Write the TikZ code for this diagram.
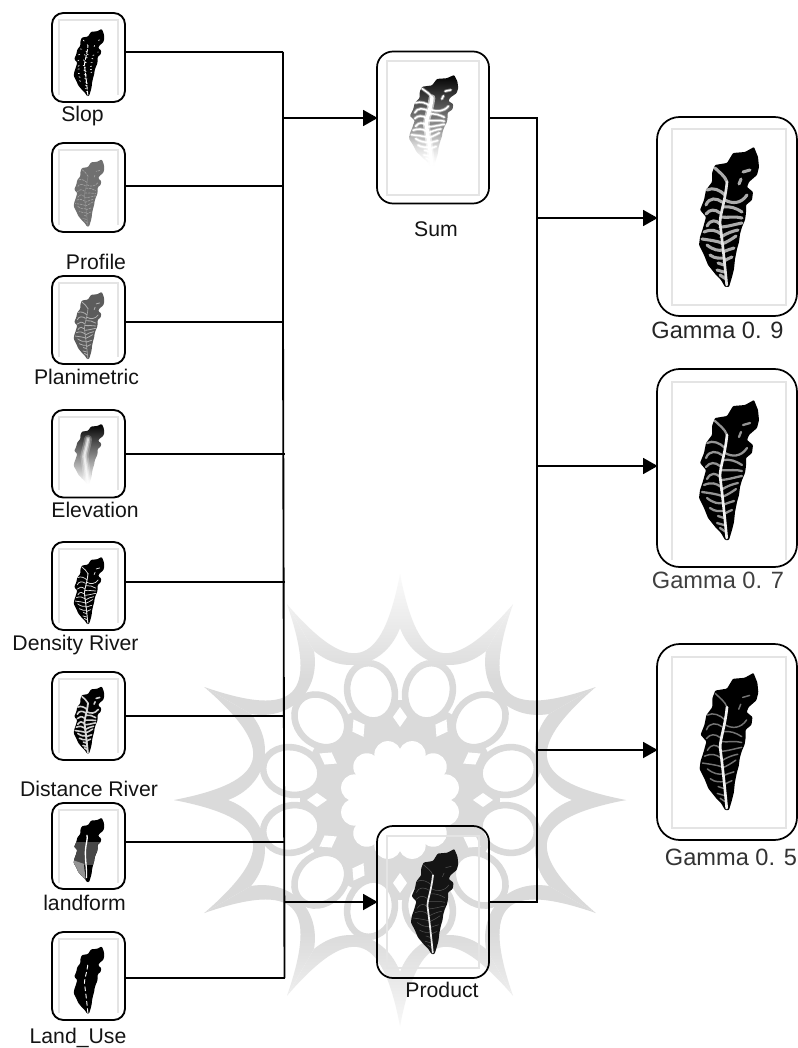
\documentclass[tikz,border=0pt]{standalone}
\usepackage{fontspec}
\setmainfont{Liberation Sans}
\usetikzlibrary{arrows.meta,fadings}
\definecolor{wm}{HTML}{DADADA}
\definecolor{frm}{HTML}{E4E4E4}
\tikzset{
  smallbox/.style={draw=black,line width=1.4pt,rounded corners=8.5pt,inner sep=0pt,outer sep=0pt,minimum width=54.75pt,minimum height=#1},
  midbox/.style={draw=black,line width=1.3pt,rounded corners=12pt,inner sep=0pt,outer sep=0pt,minimum width=84pt,minimum height=114pt},
  bigbox/.style={draw=black,line width=1.3pt,rounded corners=17pt,inner sep=0pt,outer sep=0pt,minimum width=105pt,minimum height=#1},
  wire/.style={draw=black,line width=1.4pt},
  flow/.style={wire,-{Triangle[length=11pt,width=12pt]},shorten >=-0.5pt},
  lab/.style={anchor=base,inner sep=0pt,font=\fontsize{15.9pt}{18pt}\selectfont,text=black!92},
  biglab/.style={anchor=base,inner sep=0pt,font=\fontsize{17.7pt}{20pt}\selectfont,text=black!85},
  frame/.style={draw=frm,line width=0.8pt},
  smallleaf/.style={xscale=0.51,yscale=0.48}
}
\newcommand\leafoutline{(27,-70) -- (31,-60) -- (32,-50) -- (30,-42) -- (22,-35) -- (20,-30) -- (26,-25) -- (25,-17) -- (19,-12) -- (19,-4) -- (18,3) -- (15,10) -- (13,17) -- (12,25) -- (10,32) -- (8,42) -- (7,52) -- (5,60) -- (2,70) -- (-2,70) -- (-6,63) -- (-11,58) -- (-19,48) -- (-23,38) -- (-28,28) -- (-27,20) -- (-24,11) -- (-21,0) -- (-27,-7) -- (-23,-17) -- (-21,-27) -- (-15,-35) -- (-15,-44) -- (-12,-52) -- (0,-54) -- (6,-64) -- (18,-65) -- cycle}
\newcommand\leafveins{(-2,-17) .. controls (5,-13) and (14,-13) .. (20,-22)
 (-4,-10) .. controls (3,-11) and (9,-9) .. (15,-5)
 (-6,0) .. controls (2,1) and (8,-1) .. (15,1)
 (-7,10) .. controls (0,10) and (9,7) .. (15,6)
 (-6,20) .. controls (0,16) and (6,14) .. (11,13)
 (-5,27) .. controls (0,25) and (5,22) .. (9,19)
 (-4,35) .. controls (0,33) and (4,32) .. (7,31)
 (-3,44) .. controls (0,42) and (3,41) .. (5,40)
 (-2,-22) .. controls (-7,-27) and (-14,-30) .. (-20,-27)
 (-5,-15) .. controls (-10,-19) and (-18,-20) .. (-21,-12)
 (-7,-4) .. controls (-12,-8) and (-17,-8) .. (-21,-3)
 (-7,7) .. controls (-11,3) and (-16,2) .. (-20,9)
 (-6,17) .. controls (-11,13) and (-16,12) .. (-23,15)
 (-5,26) .. controls (-10,24) and (-18,23) .. (-25,22)
 (-4,33) .. controls (-8,34) and (-14,33) .. (-20,28)
 (-3,41) .. controls (-7,41) and (-12,42) .. (-17,38)
 (-3,48) -- (-9,46)
 (-3,55) -- (-10,53)
 (-1,62) -- (-7,58)
 (0,-35) .. controls (-2,-41) and (-8,-45) .. (-12,-49)
 (23,-47) -- (16,-45)
 (12,-33) -- (14,-38)}
\newcommand\leafstem{(-0.3,68) .. controls (-2,50) and (-4,30) .. (-7,6) .. controls (-7,-3) and (-2,-15) .. (0,-35)}
% x, y, scale options, body options, vein options, vein width, stem options, stem width
\newcommand\leaf[8]{\begin{scope}[shift={(#1,#2)},#3]
  \path[#4,rounded corners=0.7pt] \leafoutline;
  \draw[#5,line width=#6,line cap=round] \leafveins;
  \draw[#7,line width=#8,line cap=round] \leafstem;
\end{scope}}
\begin{document}
\begin{tikzpicture}[x=0.75pt,y=-0.75pt]
\useasboundingbox (0,0) rectangle (798,1048);
\fill[white] (0,0) rectangle (798,1048);
% watermark
\begin{scope}[shift={(400,800)}]
  \foreach \a in {0,30,...,330}{
    \fill[wm] (\a:226) .. controls (\a+8:132) and (\a+22:132) .. (\a+30:226)
      -- (\a+30:172) .. controls (\a+24:135) and (\a+6:135) .. (\a:172) -- cycle;
  }
  \fill[wm] (0,0) circle (100);
  \foreach \a in {15,45,...,345}{
    \draw[wm,line width=4.9pt,fill=white,rotate=\a] (112,0) ellipse (29 and 23.5);
  }
  \foreach \a in {0,30,...,330}{
    \fill[white,rotate=\a] (73,0) -- (83,-7) -- (93,0) -- (83,7) -- cycle;
  }
  \fill[white] (0,0) circle (47);
  \foreach \a in {15,45,...,345}{ \fill[white] (\a:47) circle (13.5); }
\end{scope}
\fill[white,path fading=south] (0,560) rectangle (798,680);
\fill[white,path fading=north] (0,930) rectangle (798,1048);
% image frames and leaves
\foreach \x/\t/\b in {59/20/95,59/150/225,59/283/357,59/417/490,59/549/623,59/679/753,59/810/883,59/939/1013}{
  \draw[frame] (\x,\b) -- (\x,\t) -- (\x+59,\t) -- (\x+59,\b);
}
\draw[frame] (387,61) rectangle (479,195);
\draw[frame] (387,836) rectangle (479,968);
\draw[frame] (672,129) rectangle (786,305);
\draw[frame] (672,560) -- (672,382) -- (786,382) -- (786,560);
\draw[frame] (672,657) rectangle (786,828);
\leaf{88}{62.5}{smallleaf}{fill=black}{white,dash pattern=on 1pt off 3.5pt}{0.45pt}{white,dash pattern=on 3pt off 1.5pt}{0.7pt}
\leaf{88}{193}{smallleaf}{fill=black!56}{black!38,dash pattern=on 1.5pt off 1pt}{0.55pt}{black!45}{0.4pt}
\leaf{88}{325.5}{smallleaf}{fill=black!64}{black!30}{0.6pt}{black!35}{0.5pt}
\begin{scope}[shift={(88,454)},xscale=0.51,yscale=0.43]
  \path[top color=black,middle color=black!45,bottom color=white,rounded corners=0.7pt] \leafoutline;
  \draw[white,opacity=0.25,line width=6pt,line cap=round] \leafstem;
  \draw[white,opacity=0.4,line width=3.5pt,line cap=round] \leafstem;
  \draw[white,opacity=0.6,line width=1.5pt,line cap=round] \leafstem;
\end{scope}
\leaf{88}{590.5}{smallleaf}{fill=black}{black!12}{0.55pt}{black!8}{0.7pt}
\leaf{88}{720}{smallleaf}{fill=black}{black!18}{1.2pt}{black!15}{1.4pt}
\begin{scope}[shift={(88,850)},xscale=0.51,yscale=0.46]
  \fill[rounded corners=0.7pt] \leafoutline;
  \begin{scope}
    \clip \leafoutline;
    \fill[black!72] (-30,-18) -- (24,-18) -- (24,32) -- (-30,32) -- cycle;
    \fill[black!42] (-30,22) -- (-8,30) -- (-4,72) -- (-30,72) -- cycle;
  \end{scope}
  \draw[white,line width=1pt,line cap=round] (-3,60) .. controls (-2,40) and (-6,20) .. (-5,0) .. controls (-4,-15) and (0,-25) .. (-2,-32);
\end{scope}
\leaf{88}{980}{smallleaf}{fill=black}{opacity=0}{0.1pt}{white,dash pattern=on 3pt off 2.5pt}{0.7pt}
\begin{scope}[shift={(432,120.5)},xscale=0.82,yscale=0.65]
  \path[top color=black,middle color=black!75,bottom color=white,rounded corners=0.7pt] \leafoutline;
  \draw[white,opacity=0.4,line width=2.4pt,line cap=round] \leafveins;
  \draw[white,line width=1.1pt,line cap=round] \leafveins;
  \draw[white,opacity=0.6,line width=5pt,line cap=round] \leafstem;
  \draw[white,line width=2.6pt,line cap=round] \leafstem;
  \fill[white,opacity=0.8,path fading=north] (-32,15) rectangle (35,75);
\end{scope}
\leaf{727}{217}{}{fill=black}{black!33}{2.3pt}{black!10}{2pt}
\leaf{727}{470}{}{fill=black}{black!42}{1.7pt}{black!5}{2pt}
\leaf{727}{741.5}{scale=0.98}{fill=black}{black!55}{1.1pt}{black!5}{2pt}
\leaf{433}{901.5}{xscale=0.79,yscale=0.75}{fill=black!92}{black!68}{0.4pt}{black!8}{1.3pt}
% boxes
\node[smallbox=66.75pt] (slop) at (88.5,57.5) {};
\node[smallbox=66.75pt] (profile) at (88.5,187.5) {};
\node[smallbox=66pt] (plan) at (88.5,320) {};
\node[smallbox=65.6pt] (elev) at (88.5,453.75) {};
\node[smallbox=66pt] (dens) at (88.5,586) {};
\node[smallbox=66pt] (dist) at (88.5,716) {};
\node[smallbox=64.5pt] (land) at (88.5,846) {};
\node[smallbox=66pt] (use) at (88.5,976) {};
\node[midbox] (sum) at (433,127.5) {};
\node[midbox] (prod) at (433,902) {};
\node[bigbox=149.25pt] (g9) at (727,216.5) {};
\node[bigbox=148.5pt] (g7) at (727,468) {};
\node[bigbox=147pt] (g5) at (727,742) {};
% connectors
\coordinate (b1) at (283,52);
\coordinate (b2) at (283,186);
\coordinate (b3) at (283,322);
\coordinate (b4) at (285,454);
\coordinate (b5) at (285,582);
\coordinate (b6) at (285,716);
\coordinate (b7) at (284,842);
\coordinate (b8) at (284.5,978);
\coordinate (bs) at (283.5,118);
\coordinate (bp) at (284,902);
\coordinate (rs) at (537,118);
\coordinate (rp) at (537,902);
\coordinate (r9) at (537,218);
\coordinate (r7) at (537,466);
\coordinate (r5) at (537,750);
\draw[wire] (b1 -| slop.east) -- (b1);
\draw[wire] (b2 -| profile.east) -- (b2);
\draw[wire] (b3 -| plan.east) -- (b3);
\draw[wire] (b4 -| elev.east) -- (b4);
\draw[wire] (b5 -| dens.east) -- (b5);
\draw[wire] (b6 -| dist.east) -- (b6);
\draw[wire] (b7 -| land.east) -- (b7);
\draw[wire] (b8 -| use.east) -- (b8);
\draw[wire] (b1) -- (b3) -- (b8);
\draw[flow] (bs) -- (bs -| sum.west);
\draw[flow] (bp) -- (bp -| prod.west);
\draw[wire] (rs -| sum.east) -- (rs) -- (rp) -- (rp -| prod.east);
\draw[flow] (r9) -- (r9 -| g9.west);
\draw[flow] (r7) -- (r7 -| g7.west);
\draw[flow] (r5) -- (r5 -| g5.west);
% labels
\node[lab] (tslop) at (82.5,122) {Slop};
\node[lab] (tprof) at (96,269.5) {Profile};
\node[lab] (tplan) at (86.5,384) {Planimetric};
\node[lab] (telev) at (95,517.5) {Elevation};
\node[lab] (tdens) at (75.5,650) {Density River};
\node[lab] (tdist) at (89,796) {Distance River};
\node[lab] (tland) at (84.5,910) {landform};
\node[lab] (tuse) at (78,1043) {Land\_Use};
\node[lab] (tsum) at (436,237) {Sum};
\node[lab] (tprod) at (442,997) {Product};
\node[biglab] (tg9) at (717.5,338) {Gamma 0. 9};
\node[biglab,text=black!75] (tg7) at (718,588) {Gamma 0. 7};
\node[biglab,text=black!80] (tg5) at (731,865) {Gamma 0. 5};
\end{tikzpicture}
\end{document}
